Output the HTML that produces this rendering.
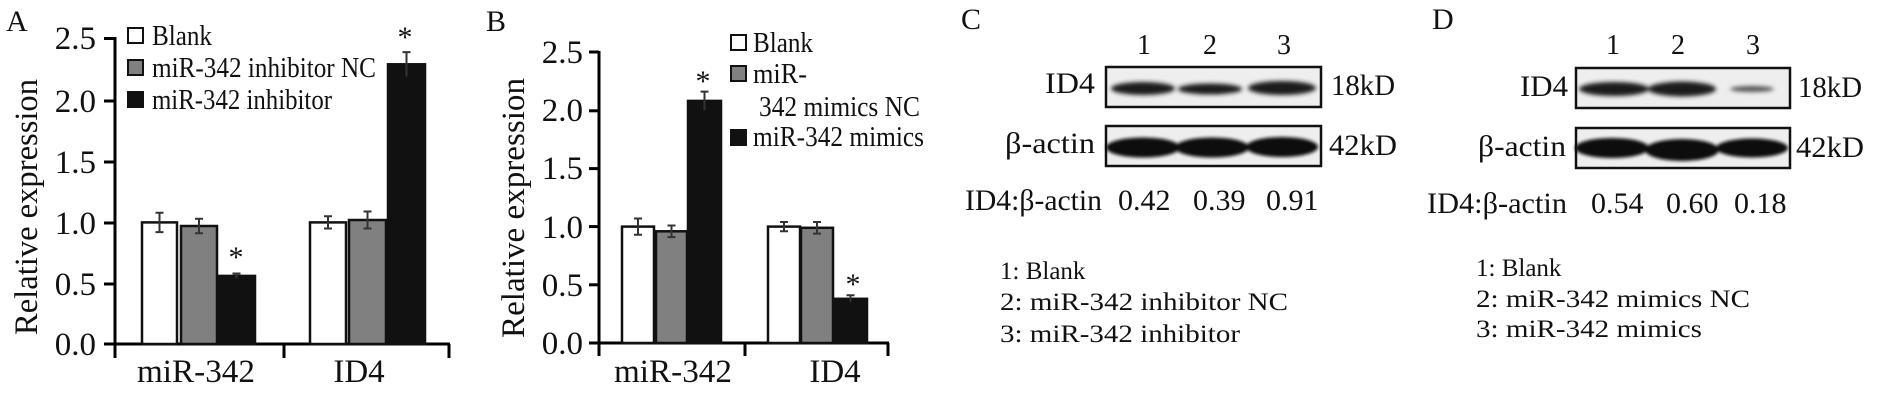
<!DOCTYPE html>
<html><head><meta charset="utf-8"><style>
html,body{margin:0;padding:0;background:#fff;}
svg{display:block;}
text{font-family:"Liberation Serif","Times New Roman",serif;fill:#111;}
</style></head><body>
<svg width="1889" height="408" viewBox="0 0 1889 408" xmlns="http://www.w3.org/2000/svg">
<defs>
<filter id="bl" x="-20%" y="-100%" width="140%" height="300%"><feGaussianBlur stdDeviation="2.2"/></filter>
<filter id="bl2" x="-20%" y="-100%" width="140%" height="300%"><feGaussianBlur stdDeviation="1.5"/></filter>
</defs>

<!-- ============ Panel A ============ -->
<text x="6" y="31" font-size="30">A</text>
<text transform="translate(37,207) rotate(-90)" text-anchor="middle" font-size="33" textLength="256" lengthAdjust="spacingAndGlyphs">Relative expression</text>
<g font-size="33" text-anchor="end">
<text x="96" y="49">2.5</text>
<text x="96" y="112">2.0</text>
<text x="96" y="173">1.5</text>
<text x="96" y="234">1.0</text>
<text x="96" y="295">0.5</text>
<text x="96" y="355">0.0</text>
</g>
<g stroke="#000" stroke-width="3" fill="none">
<line x1="115" y1="37" x2="115" y2="358"/>
<line x1="104" y1="344" x2="450" y2="344"/>
<line x1="104" y1="38.5" x2="115" y2="38.5"/>
<line x1="104" y1="101" x2="115" y2="101"/>
<line x1="104" y1="162" x2="115" y2="162"/>
<line x1="104" y1="223" x2="115" y2="223"/>
<line x1="104" y1="284" x2="115" y2="284"/>
<line x1="284" y1="344" x2="284" y2="358"/>
<line x1="449" y1="344" x2="449" y2="358"/>
</g>
<g stroke="#111" stroke-width="2.5">
<rect x="142" y="222.4" width="35" height="121.6" fill="#fff"/>
<rect x="181" y="226" width="36" height="118" fill="#808080"/>
<rect x="218" y="275.9" width="37" height="68.1" fill="#111"/>
<rect x="310" y="222.4" width="36" height="121.6" fill="#fff"/>
<rect x="349" y="220" width="37" height="124" fill="#808080"/>
<rect x="388" y="64.3" width="37" height="279.7" fill="#111"/>
</g>
<g stroke="#333" stroke-width="2" fill="none">
<path d="M159.5 212.7V232.1M155.5 212.7H163.5M155.5 232.1H163.5"/>
<path d="M199 218.7V233.3M195 218.7H203M195 233.3H203"/>
<path d="M236.5 273.5V278.3M232.5 273.5H240.5"/>
<path d="M328 216.3V228.5M324 216.3H332M324 228.5H332"/>
<path d="M367.5 211.5V228.5M363.5 211.5H371.5M363.5 228.5H371.5"/>
<path d="M406.5 52.1V76.5M402.5 52.1H410.5"/>
</g>
<g font-size="30" text-anchor="middle">
<text x="236" y="267">*</text>
<text x="405" y="47">*</text>
</g>
<g font-size="33" text-anchor="middle">
<text x="196" y="382" textLength="118" lengthAdjust="spacingAndGlyphs">miR-342</text>
<text x="359" y="382">ID4</text>
</g>
<g stroke="#111" stroke-width="2">
<rect x="128" y="28" width="15" height="15" fill="#fff"/>
<rect x="128" y="60" width="15" height="15" fill="#808080"/>
<rect x="128" y="92" width="15" height="15" fill="#111"/>
</g>
<g font-size="28">
<text x="152" y="45" textLength="60" lengthAdjust="spacingAndGlyphs">Blank</text>
<text x="152" y="77" textLength="224" lengthAdjust="spacingAndGlyphs">miR-342 inhibitor NC</text>
<text x="152" y="109" textLength="180" lengthAdjust="spacingAndGlyphs">miR-342 inhibitor</text>
</g>

<!-- ============ Panel B ============ -->
<text x="486" y="31" font-size="30">B</text>
<text transform="translate(524,208) rotate(-90)" text-anchor="middle" font-size="33" textLength="260" lengthAdjust="spacingAndGlyphs">Relative expression</text>
<g font-size="33" text-anchor="end">
<text x="583" y="63">2.5</text>
<text x="583" y="121">2.0</text>
<text x="583" y="179">1.5</text>
<text x="583" y="238">1.0</text>
<text x="583" y="296">0.5</text>
<text x="583" y="354">0.0</text>
</g>
<g stroke="#000" stroke-width="3" fill="none">
<line x1="599" y1="51" x2="599" y2="356"/>
<line x1="589" y1="343" x2="889" y2="343"/>
<line x1="589" y1="52" x2="599" y2="52"/>
<line x1="589" y1="110.8" x2="599" y2="110.8"/>
<line x1="589" y1="168.6" x2="599" y2="168.6"/>
<line x1="589" y1="226.6" x2="599" y2="226.6"/>
<line x1="589" y1="284.8" x2="599" y2="284.8"/>
<line x1="745" y1="343" x2="745" y2="356"/>
<line x1="888" y1="343" x2="888" y2="356"/>
</g>
<g stroke="#111" stroke-width="2.5">
<rect x="622" y="226.6" width="32" height="116.4" fill="#fff"/>
<rect x="656" y="231.3" width="31" height="111.7" fill="#808080"/>
<rect x="688" y="100.9" width="33" height="242.1" fill="#111"/>
<rect x="768" y="226.6" width="32" height="116.4" fill="#fff"/>
<rect x="801" y="227.8" width="32" height="115.2" fill="#808080"/>
<rect x="834" y="298.8" width="33" height="44.2" fill="#111"/>
</g>
<g stroke="#333" stroke-width="2" fill="none">
<path d="M638 218.5V234.8M634 218.5H642M634 234.8H642"/>
<path d="M671.5 225.5V237.1M667.5 225.5H675.5M667.5 237.1H675.5"/>
<path d="M704.5 91.6V110.2M700.5 91.6H708.5"/>
<path d="M784 222V231.3M780 222H788M780 231.3H788"/>
<path d="M817 222V233.6M813 222H821M813 233.6H821"/>
<path d="M850.5 295.3V302.3M846.5 295.3H854.5"/>
</g>
<g font-size="30" text-anchor="middle">
<text x="703" y="91">*</text>
<text x="853" y="294">*</text>
</g>
<g font-size="33" text-anchor="middle">
<text x="673" y="382" textLength="118" lengthAdjust="spacingAndGlyphs">miR-342</text>
<text x="835" y="382">ID4</text>
</g>
<g stroke="#111" stroke-width="2">
<rect x="731" y="35" width="15" height="15" fill="#fff"/>
<rect x="731" y="66" width="15" height="15" fill="#808080"/>
<rect x="731" y="130" width="15" height="15" fill="#111"/>
</g>
<g font-size="28">
<text x="753" y="52" textLength="60" lengthAdjust="spacingAndGlyphs">Blank</text>
<text x="753" y="83" textLength="54" lengthAdjust="spacingAndGlyphs">miR-</text>
<text x="759" y="116" textLength="161" lengthAdjust="spacingAndGlyphs">342 mimics NC</text>
<text x="753" y="146" textLength="171" lengthAdjust="spacingAndGlyphs">miR-342 mimics</text>
</g>

<!-- ============ Panel C ============ -->
<text x="961" y="29" font-size="30">C</text>
<g font-size="28" text-anchor="middle">
<text x="1144" y="54">1</text><text x="1210" y="54">2</text><text x="1284" y="54">3</text>
</g>
<rect x="1106" y="67" width="215" height="40" fill="#eeeeee" stroke="#111" stroke-width="2.5"/>
<g filter="url(#bl)" fill="#1a1a1a">
<ellipse cx="1143" cy="88.5" rx="32" ry="6.5"/>
<ellipse cx="1210" cy="89" rx="32" ry="5.5"/>
<ellipse cx="1282" cy="88" rx="34" ry="7"/>
</g>
<rect x="1106" y="126" width="215" height="40" fill="#eeeeee" stroke="#111" stroke-width="2.5"/>
<g filter="url(#bl2)" fill="#111">
<ellipse cx="1143" cy="147.5" rx="37" ry="10"/>
<ellipse cx="1212" cy="147.5" rx="37" ry="10"/>
<ellipse cx="1282" cy="147" rx="36" ry="10"/>
</g>
<g font-size="30">
<text x="1095" y="93" text-anchor="end" textLength="50" lengthAdjust="spacingAndGlyphs">ID4</text>
<text x="1331" y="95" textLength="64" lengthAdjust="spacingAndGlyphs">18kD</text>
<text x="1095" y="153" text-anchor="end" textLength="90" lengthAdjust="spacingAndGlyphs">β-actin</text>
<text x="1329" y="155" textLength="68" lengthAdjust="spacingAndGlyphs">42kD</text>
<text x="965" y="210" textLength="137" lengthAdjust="spacingAndGlyphs">ID4:β-actin</text>
<text x="1118" y="210">0.42</text>
<text x="1193" y="210">0.39</text>
<text x="1266" y="210">0.91</text>
</g>
<g font-size="25">
<text x="1000" y="279">1: Blank</text>
<text x="1000" y="310" textLength="288" lengthAdjust="spacingAndGlyphs">2: miR-342 inhibitor NC</text>
<text x="1000" y="342" textLength="240" lengthAdjust="spacingAndGlyphs">3: miR-342 inhibitor</text>
</g>

<!-- ============ Panel D ============ -->
<text x="1432" y="29" font-size="30">D</text>
<g font-size="28" text-anchor="middle">
<text x="1613" y="54">1</text><text x="1678" y="54">2</text><text x="1753" y="54">3</text>
</g>
<rect x="1576" y="68" width="214" height="40" fill="#eeeeee" stroke="#111" stroke-width="2.5"/>
<g filter="url(#bl)" fill="#1a1a1a">
<ellipse cx="1614" cy="89" rx="35" ry="7"/>
<ellipse cx="1682" cy="89" rx="34" ry="7.5"/>
<ellipse cx="1752" cy="89" rx="22" ry="3" fill="#555"/>
</g>
<rect x="1576" y="128" width="214" height="40" fill="#eeeeee" stroke="#111" stroke-width="2.5"/>
<g filter="url(#bl2)" fill="#111">
<ellipse cx="1612" cy="148" rx="37" ry="10"/>
<ellipse cx="1682" cy="150" rx="37" ry="11"/>
<ellipse cx="1752" cy="148" rx="36" ry="9.5"/>
</g>
<g font-size="30">
<text x="1568" y="96" text-anchor="end" textLength="48" lengthAdjust="spacingAndGlyphs">ID4</text>
<text x="1798" y="97" textLength="64" lengthAdjust="spacingAndGlyphs">18kD</text>
<text x="1566" y="156" text-anchor="end" textLength="88" lengthAdjust="spacingAndGlyphs">β-actin</text>
<text x="1796" y="157" textLength="68" lengthAdjust="spacingAndGlyphs">42kD</text>
<text x="1427" y="213" textLength="140" lengthAdjust="spacingAndGlyphs">ID4:β-actin</text>
<text x="1591" y="213">0.54</text>
<text x="1666" y="213">0.60</text>
<text x="1734" y="213">0.18</text>
</g>
<g font-size="25">
<text x="1476" y="276">1: Blank</text>
<text x="1476" y="307" textLength="274" lengthAdjust="spacingAndGlyphs">2: miR-342 mimics NC</text>
<text x="1476" y="337" textLength="226" lengthAdjust="spacingAndGlyphs">3: miR-342 mimics</text>
</g>
</svg>
</body></html>
